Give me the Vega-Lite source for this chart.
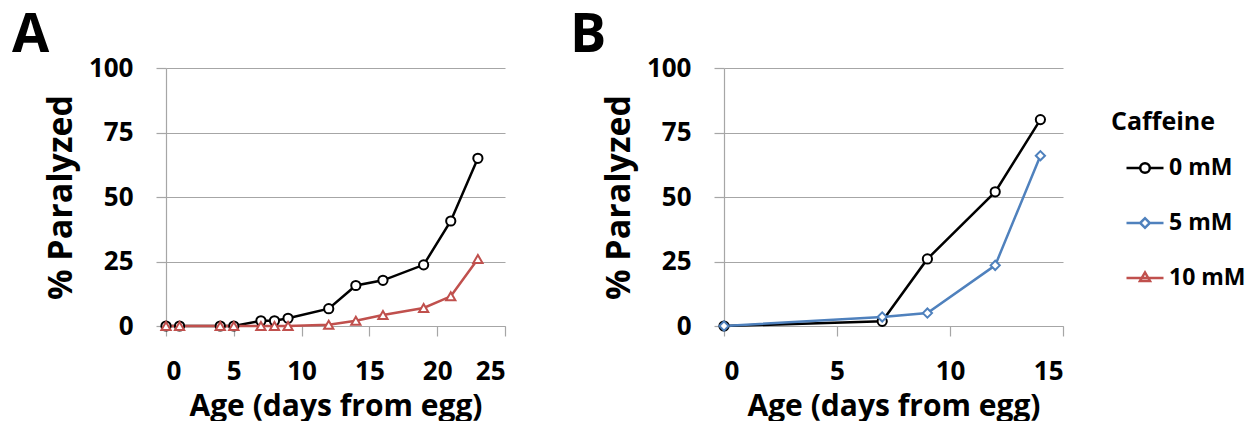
{
  "$schema": "https://vega.github.io/schema/vega-lite/v6.json",
  "background": "white",
  "padding": {"left": 12, "top": 9, "right": 0, "bottom": 0},
  "datasets": {
    "paralysis": [
      {"panel": "A", "caffeine": "0 mM", "day": 0, "pct": 0},
      {"panel": "A", "caffeine": "0 mM", "day": 1, "pct": 0},
      {"panel": "A", "caffeine": "0 mM", "day": 4, "pct": 0},
      {"panel": "A", "caffeine": "0 mM", "day": 5, "pct": 0},
      {"panel": "A", "caffeine": "0 mM", "day": 7, "pct": 2},
      {"panel": "A", "caffeine": "0 mM", "day": 8, "pct": 2},
      {"panel": "A", "caffeine": "0 mM", "day": 9, "pct": 3},
      {"panel": "A", "caffeine": "0 mM", "day": 12, "pct": 6.7},
      {"panel": "A", "caffeine": "0 mM", "day": 14, "pct": 15.7},
      {"panel": "A", "caffeine": "0 mM", "day": 16, "pct": 17.7},
      {"panel": "A", "caffeine": "0 mM", "day": 19, "pct": 23.7},
      {"panel": "A", "caffeine": "0 mM", "day": 21, "pct": 40.7},
      {"panel": "A", "caffeine": "0 mM", "day": 23, "pct": 65},
      {"panel": "A", "caffeine": "10 mM", "day": 0, "pct": 0},
      {"panel": "A", "caffeine": "10 mM", "day": 1, "pct": 0},
      {"panel": "A", "caffeine": "10 mM", "day": 4, "pct": 0},
      {"panel": "A", "caffeine": "10 mM", "day": 5, "pct": 0},
      {"panel": "A", "caffeine": "10 mM", "day": 7, "pct": 0},
      {"panel": "A", "caffeine": "10 mM", "day": 8, "pct": 0},
      {"panel": "A", "caffeine": "10 mM", "day": 9, "pct": 0},
      {"panel": "A", "caffeine": "10 mM", "day": 12, "pct": 0.5},
      {"panel": "A", "caffeine": "10 mM", "day": 14, "pct": 2},
      {"panel": "A", "caffeine": "10 mM", "day": 16, "pct": 4.3},
      {"panel": "A", "caffeine": "10 mM", "day": 19, "pct": 7},
      {"panel": "A", "caffeine": "10 mM", "day": 21, "pct": 11.5},
      {"panel": "A", "caffeine": "10 mM", "day": 23, "pct": 26},
      {"panel": "B", "caffeine": "0 mM", "day": 0, "pct": 0},
      {"panel": "B", "caffeine": "0 mM", "day": 7, "pct": 1.8},
      {"panel": "B", "caffeine": "0 mM", "day": 9, "pct": 26},
      {"panel": "B", "caffeine": "0 mM", "day": 12, "pct": 52},
      {"panel": "B", "caffeine": "0 mM", "day": 14, "pct": 80},
      {"panel": "B", "caffeine": "5 mM", "day": 0, "pct": 0},
      {"panel": "B", "caffeine": "5 mM", "day": 7, "pct": 3.5},
      {"panel": "B", "caffeine": "5 mM", "day": 9, "pct": 5},
      {"panel": "B", "caffeine": "5 mM", "day": 12, "pct": 23.5},
      {"panel": "B", "caffeine": "5 mM", "day": 14, "pct": 66}
    ]
  },
  "config": {
    "font": "Open Sans",
    "view": {"stroke": null},
    "axis": {
      "labelFont": "Open Sans",
      "labelFontSize": 26,
      "labelFontWeight": "bold",
      "labelColor": "black",
      "titleFont": "Open Sans",
      "titleFontWeight": "bold",
      "titleColor": "black",
      "gridColor": "#A6A6A6",
      "gridWidth": 1.2,
      "domainColor": "#A6A6A6",
      "domainWidth": 1.2,
      "tickColor": "#A6A6A6",
      "tickWidth": 1.2,
      "tickSize": 10
    },
    "axisX": {"titleFontSize": 30, "labelPadding": 22, "titlePadding": 7},
    "axisY": {"titleFontSize": 34, "labelPadding": 23, "titlePadding": 10},
    "legend": {
      "titleFont": "Open Sans",
      "titleFontSize": 25,
      "titleFontWeight": "bold",
      "titleColor": "black",
      "titlePadding": 13,
      "labelFont": "Open Sans",
      "labelFontSize": 23,
      "labelFontWeight": "bold",
      "labelColor": "black",
      "labelOffset": 4,
      "symbolSize": 1369,
      "symbolStrokeWidth": 2.5,
      "symbolFillColor": "white",
      "symbolOffset": 14,
      "rowPadding": 23
    },
    "point": {"filled": true, "fill": "white", "strokeWidth": 2, "size": 85, "opacity": 1},
    "title": {"font": "Open Sans", "fontSize": 54, "fontWeight": "bold", "color": "black", "anchor": "start", "baseline": "alphabetic", "offset": -8}
  },
  "spacing": 64,
  "hconcat": [
    {
      "title": {"text": "A", "frame": "group", "dx": -154},
      "width": 339,
      "height": 258,
      "data": {"name": "paralysis"},
      "transform": [{"filter": "datum.panel === 'A'"}],
      "encoding": {
        "x": {"field": "day", "type": "quantitative", "scale": {"domain": [0, 25], "nice": false},
              "axis": {"values": [0, 5, 10, 15, 20, 25], "grid": false, "title": "Age (days from egg)"}},
        "y": {"field": "pct", "type": "quantitative", "scale": {"domain": [0, 100], "nice": false},
              "axis": {"values": [0, 25, 50, 75, 100], "grid": true, "title": "% Paralyzed"}},
        "stroke": {
          "field": "caffeine", "type": "nominal",
          "scale": {"domain": ["0 mM", "5 mM", "10 mM"], "range": ["#000000", "#4F81BD", "#C0504D"]},
          "legend": {
            "title": "Caffeine",
            "orient": "none",
            "legendX": 945,
            "legendY": 42,
            "symbolType": "M-1,0H1",
            "encode": {
              "symbols": {
                "update": {
                  "shape": {"signal": "datum.value === '0 mM' ? 'M-1,0H-0.26M0.26,0H1M-0.26,0A0.26,0.26,0,1,1,0.26,0A0.26,0.26,0,1,1,-0.26,0Z' : datum.value === '5 mM' ? 'M-1,0H-0.26M0.26,0H1M-0.26,0L0,-0.26L0.26,0L0,0.26Z' : 'M-1,0H1M-0.27,0.16L0,-0.3L0.27,0.16Z'"},
                  "fill": {"value": "white"}
                }
              }
            }
          }
        }
      },
      "layer": [
        {"mark": {"type": "line", "strokeWidth": 2.5}},
        {"transform": [{"filter": "datum.caffeine === '0 mM'"}], "mark": {"type": "point", "shape": "circle"}},
        {"transform": [{"filter": "datum.caffeine === '10 mM'"}], "mark": {"type": "point", "shape": "triangle-up"}},
        {
          "data": {"values": [{"temp": "15°C"}]},
          "transform": [],
          "mark": {"type": "text", "align": "right", "baseline": "middle", "fontSize": 28, "fontWeight": "bold", "font": "Open Sans", "color": "black"},
          "encoding": {
            "x": {"datum": 24.7, "type": "quantitative"},
            "y": {"datum": 92, "type": "quantitative"},
            "stroke": {"value": null},
            "text": {"field": "temp"}
          }
        }
      ]
    },
    {
      "title": {"text": "B", "frame": "group", "dx": -154},
      "width": 339,
      "height": 258,
      "data": {"name": "paralysis"},
      "transform": [{"filter": "datum.panel === 'B'"}],
      "encoding": {
        "x": {"field": "day", "type": "quantitative", "scale": {"domain": [0, 15], "nice": false},
              "axis": {"values": [0, 5, 10, 15], "grid": false, "title": "Age (days from egg)"}},
        "y": {"field": "pct", "type": "quantitative", "scale": {"domain": [0, 100], "nice": false},
              "axis": {"values": [0, 25, 50, 75, 100], "grid": true, "title": "% Paralyzed"}},
        "stroke": {"field": "caffeine", "type": "nominal"}
      },
      "layer": [
        {"mark": {"type": "line", "strokeWidth": 2.5}},
        {"transform": [{"filter": "datum.caffeine === '0 mM'"}], "mark": {"type": "point", "shape": "circle"}},
        {"transform": [{"filter": "datum.caffeine === '5 mM'"}], "mark": {"type": "point", "shape": "diamond"}},
        {
          "data": {"values": [{"temp": "20°C"}]},
          "transform": [],
          "mark": {"type": "text", "align": "right", "baseline": "middle", "fontSize": 28, "fontWeight": "bold", "font": "Open Sans", "color": "black"},
          "encoding": {
            "x": {"datum": 14.8, "type": "quantitative"},
            "y": {"datum": 92, "type": "quantitative"},
            "stroke": {"value": null},
            "text": {"field": "temp"}
          }
        }
      ]
    }
  ],
  "resolve": {"scale": {"x": "independent", "stroke": "shared"}}
}
